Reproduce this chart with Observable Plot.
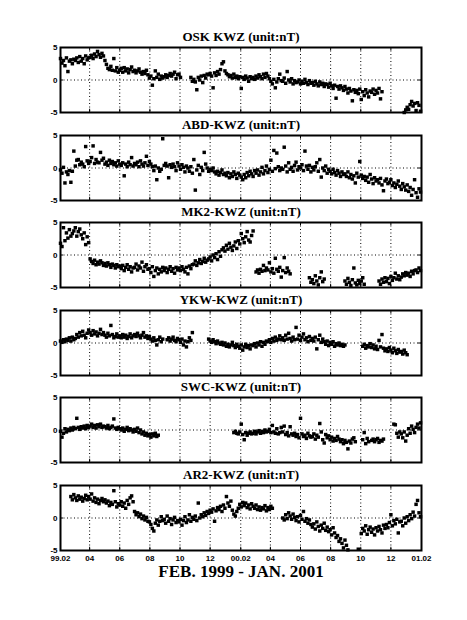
<!DOCTYPE html>
<html><head><meta charset="utf-8">
<script src="https://cdn.jsdelivr.net/npm/d3@7"></script>
<script src="https://cdn.jsdelivr.net/npm/@observablehq/plot@0.6"></script>
<style>
body{margin:0;background:#fff;}
#chart{position:relative;width:467px;height:620px;background:#fff;overflow:hidden;}
#chart svg{position:absolute;left:0;}
</style></head><body><div id="chart"></div>
<script>
// ---- data ----
const stepDays = 3; // one value every 3 days from 1999-02-01
const titles = ["OSK KWZ (unit:nT)","ABD-KWZ (unit:nT)","MK2-KWZ (unit:nT)","YKW-KWZ (unit:nT)","SWC-KWZ (unit:nT)","AR2-KWZ (unit:nT)"];
const tickDates = ["1999-02-01","1999-04-01","1999-06-01","1999-08-01","1999-10-01","1999-12-01","2000-02-01","2000-04-01","2000-06-01","2000-08-01","2000-10-01","2000-12-01","2001-02-01"];
const tickLabels = ["99.02","04","06","08","10","12","00.02","04","06","08","10","12","01.02"];
const yTicks = [5, 0, -5];
const yTickLabels = ["5","0","-5"];
const caption = "FEB. 1999 - JAN. 2001";
const _ = null;

const osk = [
3.3,2.6,3.0,2.2,3.4,1.3,2.9,3.1,2.5,3.2,
3.0,3.4,2.7,3.6,2.9,3.3,2.5,3.7,3.1,3.4,
3.5,3.8,3.3,4.0,3.6,4.4,3.9,3.5,4.1,3.7,
3.0,2.4,1.8,1.6,2.1,1.5,3.3,1.4,1.9,1.2,
1.5,1.8,1.2,1.9,1.4,1.7,1.1,1.6,2.0,1.3,
1.5,1.1,1.4,1.7,1.2,0.9,1.3,1.0,1.5,0.8,
0.3,0.6,-0.8,0.2,1.4,0.4,0.9,0.1,0.6,0.3,
0.5,0.8,0.4,0.7,1.0,0.6,0.9,1.2,0.2,0.8,
0.9,0.4,_,_,_,_,_,_,0.4,-0.2,
0.1,-0.3,-1.5,0.4,0.0,0.6,-0.4,0.7,0.3,0.9,
0.8,1.0,0.6,-1.2,1.1,0.7,1.3,0.9,1.6,2.5,
2.8,1.4,1.0,0.8,0.5,0.7,0.3,0.9,0.4,0.6,
0.2,0.5,-1.3,0.4,0.1,0.6,0.3,-0.2,0.5,0.2,
0.4,0.1,0.6,0.3,0.8,0.5,0.2,0.9,0.4,1.0,
0.6,0.2,-0.2,-0.6,0.1,-1.2,-0.3,0.2,0.9,-0.1,
-0.2,0.3,-0.5,1.3,0.0,-0.3,0.2,-0.6,-0.1,-0.4,
-0.3,0.0,-0.6,-0.2,-0.5,0.1,-0.4,-0.7,-0.1,-0.5,
-0.4,-0.8,-0.2,-0.6,-0.9,-0.3,-0.7,-0.5,-1.0,-0.6,
-0.7,-1.1,-0.5,-0.9,-1.3,-0.8,-2.8,-1.0,-1.4,-0.9,
-1.2,-1.6,-1.0,-1.4,-2.0,-1.3,-1.7,-3.2,-1.5,-1.9,
-1.6,-2.1,-1.4,-3.0,-1.8,-2.4,-1.5,-2.0,-2.6,-1.7,
-1.9,-1.4,-2.2,-1.6,-2.0,-1.3,-2.9,-1.8,_,_,
_,_,_,_,_,_,_,_,_,_,
_,_,-5.0,-4.6,-4.2,-4.5,-3.8,-3.3,-4.0,-3.6,
-4.7,-3.5,-3.9,-4.8];

const abd = [
-0.3,-0.8,0.1,-2.3,-0.6,-1.0,-0.4,-2.2,-0.5,2.6,
0.3,1.2,1.3,0.5,0.9,0.6,0.2,3.3,1.1,0.7,
1.0,1.6,3.4,0.7,1.3,0.9,0.8,2.4,1.2,1.5,
0.6,0.9,0.4,1.2,0.7,1.0,0.5,0.8,0.3,1.1,
0.6,0.4,0.8,-1.2,0.6,0.2,0.9,0.5,1.6,0.3,
0.7,0.5,0.9,0.2,1.1,0.6,0.3,0.8,1.8,0.4,
1.0,0.6,0.2,-0.4,0.3,-1.8,0.0,-0.5,-0.2,4.5,
0.4,0.7,0.3,-1.5,0.5,0.1,0.6,0.2,-0.4,0.8,
0.3,-0.2,0.5,0.1,-0.6,0.3,0.0,-0.5,0.2,-0.8,
1.3,-3.4,-0.3,0.4,-1.0,0.1,-0.4,2.4,0.6,0.0,
-0.5,-0.2,-0.4,0.0,-0.6,-0.9,-0.5,-1.1,-0.7,-0.3,
-1.0,-0.8,-1.2,-0.7,-1.5,-0.9,-1.3,-0.6,-1.0,-1.6,
-0.8,-1.1,-1.4,-1.8,-1.0,-1.5,-0.7,-1.2,-0.5,-0.9,
-1.3,-0.4,-0.8,-0.3,-1.1,-0.6,0.1,-0.9,-0.4,0.3,
-0.7,-0.2,1.2,-0.5,2.7,-0.1,2.3,0.2,-0.4,0.0,
-0.2,3.2,0.3,-0.6,0.8,-0.2,0.1,-0.5,0.4,0.9,
-0.3,0.2,0.0,0.5,-0.4,2.6,0.3,-0.2,0.4,-0.6,
0.1,-0.3,0.2,0.8,-0.5,1.3,-1.4,0.0,-0.4,0.3,
-0.8,-0.2,-0.5,-0.9,-0.2,-0.7,-1.1,-0.4,-0.8,-1.3,
-0.6,-1.0,-0.9,-1.3,-0.6,-1.5,-1.0,-1.7,-1.2,-2.3,
-0.8,-1.4,1.0,-1.1,-1.6,-1.3,-1.9,-1.4,-2.2,-1.0,
-1.7,-2.4,-1.5,-2.0,-1.8,-2.3,-1.6,-2.6,-3.5,-2.0,
-1.7,-2.4,-2.2,-1.8,-2.7,-2.3,-3.0,-2.5,-2.0,-2.8,
-3.3,-2.4,-2.9,-3.4,-2.6,-3.6,-3.0,-4.2,-3.3,-1.8,
-3.8,-4.5,-3.2,-3.7];

const mk2 = [
1.8,1.3,4.2,2.2,3.4,2.6,3.9,2.9,3.3,3.7,
4.2,2.9,3.6,4.0,3.1,2.5,3.4,1.6,2.8,1.9,
-0.6,-1.0,-1.3,-0.8,-1.5,-1.1,-1.4,-0.9,-1.2,-1.6,
-1.3,-1.7,-1.2,-1.5,-1.9,-1.4,-1.6,-2.0,-1.5,-1.8,
-1.7,-2.1,-1.6,-2.4,-1.9,-1.5,-2.2,-1.8,-2.6,-2.0,
-1.9,-1.4,-2.3,-1.7,-2.0,-1.1,-2.5,-1.8,-1.5,-2.2,
-2.1,-2.7,-1.8,-3.3,-2.4,-2.0,-2.9,-2.2,-2.6,-1.9,
-2.4,-2.0,-2.7,-2.2,-1.8,-2.5,-2.1,-2.8,-1.9,-2.3,
-2.0,-2.4,-1.8,-2.2,-2.6,-1.9,-2.9,-1.7,-2.1,-1.5,
-1.4,-0.9,-1.6,-1.2,-0.7,-1.3,-1.0,-0.5,-1.1,-0.8,
-0.6,-0.3,-0.9,0.0,-0.4,0.2,-0.7,0.5,-0.2,0.8,
1.1,0.6,1.5,0.9,1.8,1.2,0.7,1.4,2.0,1.0,
2.2,1.7,3.3,2.5,1.9,2.8,3.6,2.3,2.0,3.0,
3.7,_,-2.6,-2.3,-2.8,-2.2,-2.5,-1.6,-2.4,-2.0,
-2.3,-1.2,-2.6,-2.1,-2.8,-0.5,-2.2,-2.5,-1.9,-3.4,
-2.4,-0.4,-2.7,-2.0,-2.5,-2.9,_,_,_,_,
_,_,_,_,_,_,_,_,-3.5,-4.2,
-3.8,-4.4,-3.2,-4.0,-4.6,-3.5,-2.6,-4.1,-3.7,_,
_,_,_,_,_,_,_,_,_,_,
_,_,-4.0,-4.5,-3.6,-4.2,-4.7,-3.8,-2.0,-4.3,
-4.6,-3.9,-4.4,-4.0,-3.5,-4.5,_,_,_,_,
_,_,_,_,_,-4.0,-4.5,-3.7,-4.2,-3.5,
-4.1,-3.6,-4.4,-3.3,-3.9,-3.5,-2.8,-3.7,-3.2,-3.8,
-3.4,-2.9,-3.2,-2.7,-3.1,-2.8,-3.3,-2.5,-2.9,-2.4,
-2.3,-2.7,-2.0,-2.4];

const ykw = [
0.3,0.1,0.5,0.2,0.6,0.4,0.8,0.3,0.9,0.5,
0.7,1.3,0.9,1.6,1.1,1.8,1.2,0.8,1.5,2.0,
1.6,1.2,1.9,1.4,1.7,1.1,1.5,2.1,1.3,1.6,
1.2,0.9,1.5,1.1,2.7,1.3,0.8,1.0,1.4,0.9,
1.1,0.8,1.3,0.9,1.2,0.7,1.0,1.4,0.8,1.1,
1.3,1.0,1.5,1.1,0.8,1.2,1.6,0.9,1.1,0.7,
1.0,0.6,0.3,0.8,0.4,-0.3,0.5,0.9,0.2,0.6,
_,_,0.5,0.8,0.3,0.6,0.9,0.4,0.2,0.7,
0.5,0.1,0.6,-0.3,0.3,-0.6,0.2,0.8,0.4,1.6,
_,_,_,_,_,_,_,_,_,_,
0.6,0.3,0.1,0.5,0.2,-0.1,0.3,0.0,-0.2,0.1,
-0.3,0.0,-0.5,-0.2,-0.6,-0.3,0.1,-0.4,-0.7,-0.2,
-0.5,-0.8,-0.3,-1.1,-0.6,-0.2,-0.7,-0.4,-0.9,-0.3,
-0.4,-0.1,-0.6,0.0,-0.3,0.2,-0.5,0.1,-0.2,0.3,
0.2,0.5,0.1,0.7,0.3,0.9,0.4,0.6,1.1,0.5,
0.8,0.4,1.2,0.6,1.5,0.7,0.3,0.9,0.5,2.4,
0.6,1.2,0.4,0.9,1.4,0.5,0.8,0.2,1.0,0.4,
0.7,0.3,0.9,-0.9,0.5,1.2,0.1,0.6,0.2,-0.2,
0.3,-0.4,0.1,-0.2,0.2,-0.5,-0.1,-0.3,0.0,-0.4,
-0.2,-0.5,-0.3,_,_,_,_,_,_,_,
_,_,_,_,-0.5,-0.2,-0.8,-0.4,-0.6,-0.1,
-0.7,-0.3,-0.9,-0.5,-1.0,0.4,-0.6,1.3,-0.8,-1.2,
-0.9,-1.3,-0.7,-1.1,-1.5,-0.8,-1.2,-1.6,-1.0,-1.4,
-1.3,-1.7,-1.1,-1.5,-1.8,_,_,_,_,_,
_,_,_,_];

const swc = [
-0.2,-1.1,-0.5,0.2,-0.3,0.1,-0.1,0.3,0.0,0.4,
0.2,1.8,0.4,0.1,0.5,0.3,0.6,0.2,0.7,0.4,
0.6,0.9,0.4,0.7,0.3,0.8,0.5,0.9,0.4,0.6,
0.5,0.3,0.7,0.2,0.4,0.6,1.7,0.3,0.1,0.4,
0.2,0.0,0.3,-0.2,0.1,0.4,-0.1,0.2,0.0,-0.3,
0.1,-0.2,0.3,-0.4,0.0,-0.6,-0.3,-0.8,-0.5,-0.9,
-0.7,-1.1,-0.6,-0.9,-0.5,-1.0,-0.8,_,_,_,
_,_,_,_,_,_,_,_,_,_,
_,_,_,_,_,_,_,_,_,_,
_,_,_,_,_,_,_,_,_,_,
_,_,_,_,_,_,_,_,_,_,
_,_,_,_,_,_,_,-0.4,-0.2,-0.5,
-0.6,-0.3,0.9,-0.7,-1.5,-0.4,-0.8,-0.5,-0.3,-0.6,
-0.5,-0.2,-0.6,-0.3,-0.1,-0.5,-0.2,-0.4,0.0,-0.3,
-0.2,0.1,-0.4,0.7,-0.3,-0.5,0.2,-0.6,-0.4,0.4,
-0.3,0.6,-0.7,-0.4,-0.9,0.5,-0.6,-0.8,-0.5,-1.0,
-0.7,-1.2,1.8,-0.6,-1.0,-0.8,-1.3,-0.5,-0.9,-1.1,
-1.0,-0.6,-1.4,-0.8,-1.1,1.0,-0.3,-1.5,-2.0,-0.7,
-1.2,-0.9,-1.5,-1.1,-1.7,-1.3,-1.6,-1.0,-1.4,-1.8,
-1.5,-2.1,-1.6,-1.9,-2.9,-1.7,-2.0,-1.4,-1.2,-1.8,
_,_,_,_,-1.5,-0.4,-2.1,-1.3,-1.8,_,
-1.6,-1.4,-1.8,-1.5,-1.3,-1.9,-1.6,-1.7,-1.4,_,
_,_,_,_,_,0.9,0.8,-0.5,-1.1,-0.3,
-0.6,-1.2,-0.3,-1.7,-0.8,0.2,-0.5,0.6,0.1,-0.4,
0.4,0.9,0.3,1.1];

const ar2 = [
_,_,_,_,_,_,_,3.3,2.8,3.6,
3.1,2.7,3.4,2.9,3.2,2.6,3.0,3.5,2.8,3.3,
2.9,3.7,2.6,3.1,2.4,2.9,2.2,2.7,3.0,2.5,
2.8,2.3,2.6,1.9,2.4,2.1,4.2,2.5,1.7,2.2,
2.0,2.5,1.8,2.3,1.5,2.7,2.1,3.1,3.4,2.5,
1.0,0.5,0.8,0.2,0.6,-0.1,0.3,-0.3,0.1,-0.5,
-0.6,-1.0,-1.6,-2.0,-0.8,-0.3,-1.1,-0.5,0.2,-0.4,
-0.2,-0.8,0.3,-0.5,-0.1,-1.0,-0.3,0.1,-0.7,-0.4,
-0.6,-0.2,-1.1,-0.4,0.2,-0.7,-0.3,0.5,-0.5,0.1,
-0.2,0.3,-0.4,2.3,0.0,0.5,0.2,0.8,0.4,1.0,
0.7,1.2,0.9,1.4,-0.5,1.1,1.6,1.3,1.8,1.0,
2.0,1.5,3.3,2.3,1.8,2.6,1.2,0.6,0.3,1.0,
1.5,2.1,1.7,2.4,1.9,2.3,1.6,2.0,1.4,2.2,
1.8,1.5,2.0,1.3,1.7,1.2,1.6,1.4,1.9,1.1,
1.6,1.3,1.8,1.5,_,_,_,_,_,_,
0.0,-0.3,0.5,-0.1,0.8,0.3,-0.2,0.6,0.1,-0.4,
0.2,-0.6,0.4,-0.2,1.0,-0.5,-0.1,-0.8,-0.3,-1.0,
-1.4,-0.9,-1.7,-0.6,-1.3,-2.0,-1.1,-1.6,-0.8,-1.9,
-1.4,-2.1,-1.8,-2.6,-1.5,-2.3,-3.0,-2.7,-3.6,-3.2,
-3.9,-4.6,-3.4,-4.2,-4.9,_,_,_,_,_,
_,-4.8,_,-2.4,-1.6,-2.0,-1.2,-2.5,-1.8,-1.4,
-2.2,-1.7,-2.6,-1.5,-2.0,-1.3,-1.8,-2.3,-1.1,-1.6,
-1.0,-1.5,-0.7,0.5,-1.2,-0.4,-0.9,-0.2,-2.3,-0.6,
-0.5,-1.2,0.0,-0.8,0.2,-0.4,0.5,-0.1,0.9,0.3,
2.1,2.7,0.8,0.2];

// ---- drawing ----
const series = [osk, abd, mk2, ykw, swc, ar2];
const DAY = 86400000;
const t0 = new Date("1999-02-01T00:00:00Z");
const dates = tickDates.map(s => new Date(s + "T00:00:00Z"));
const xDomain = [dates[0], dates[dates.length - 1]];
const tickLen = 6 * DAY;
const chart = document.getElementById("chart");

series.forEach((vals, k) => {
  const rows = vals.map((v, i) => ({date: new Date(t0.getTime() + i * stepDays * DAY), value: v}))
                   .filter(d => d.value != null);
  const last = k === series.length - 1;
  const frameTop = 47 + Math.round(k * 87.6);
  const mTop = 24, mBottom = last ? 36 : 0, frameH = 65;
  const marks = [
    Plot.ruleX(dates.slice(1, -1), {x: d => d, stroke: "#000", strokeWidth: 1, strokeDasharray: "1,2.5"}),
    Plot.ruleY([0], {x1: xDomain[0], x2: xDomain[1], stroke: "#000", strokeWidth: 1, strokeDasharray: "1,2.5"}),
    Plot.dot(rows, {x: "date", y: "value", r: 1.95, symbol: "square", fill: "#000"}),
    Plot.ruleX(dates, {x: d => d, y1: 5, y2: 4.5, stroke: "#000", strokeWidth: 1}),
    Plot.ruleX(dates, {x: d => d, y1: -5, y2: -4.5, stroke: "#000", strokeWidth: 1}),
    Plot.ruleY(yTicks, {y: d => d, x1: xDomain[0], x2: new Date(xDomain[0].getTime() + tickLen), stroke: "#000"}),
    Plot.ruleY(yTicks, {y: d => d, x1: xDomain[1], x2: new Date(xDomain[1].getTime() - tickLen), stroke: "#000"}),
    Plot.frame({stroke: "#000", strokeWidth: 2}),
    Plot.text(yTicks, {y: d => d, text: (d, i) => yTickLabels[i], frameAnchor: "left", dx: -3, textAnchor: "end",
      lineAnchor: "middle", fontSize: 8, fontWeight: "bold", fontFamily: "Liberation Sans", fill: "#000"}),
    Plot.text([titles[k]], {text: d => d, frameAnchor: "top", dy: -11, lineAnchor: "middle", fontSize: 13,
      fontWeight: "bold", fontFamily: "Liberation Serif", fill: "#000"})
  ];
  if (last) {
    marks.push(Plot.text(dates, {x: d => d, text: (d, i) => tickLabels[i], frameAnchor: "bottom", dy: 8,
      lineAnchor: "middle", fontSize: 8, fontWeight: "bold", fontFamily: "Liberation Sans", fill: "#000"}));
    marks.push(Plot.text([caption], {text: d => d, frameAnchor: "bottom", dy: 21, lineAnchor: "middle",
      fontSize: 17, fontWeight: "bold", fontFamily: "Liberation Serif", fill: "#000"}));
  }
  const svg = Plot.plot({
    width: 467, height: mTop + frameH + mBottom,
    marginLeft: 60, marginRight: 46, marginTop: mTop, marginBottom: mBottom,
    x: {type: "utc", domain: xDomain, axis: null},
    y: {domain: [-5, 5], axis: null},
    style: {background: "transparent", overflow: "visible", fontFamily: "Liberation Sans"},
    marks
  });
  svg.style.top = (frameTop - mTop) + "px";
  chart.appendChild(svg);
});
</script></body></html>
